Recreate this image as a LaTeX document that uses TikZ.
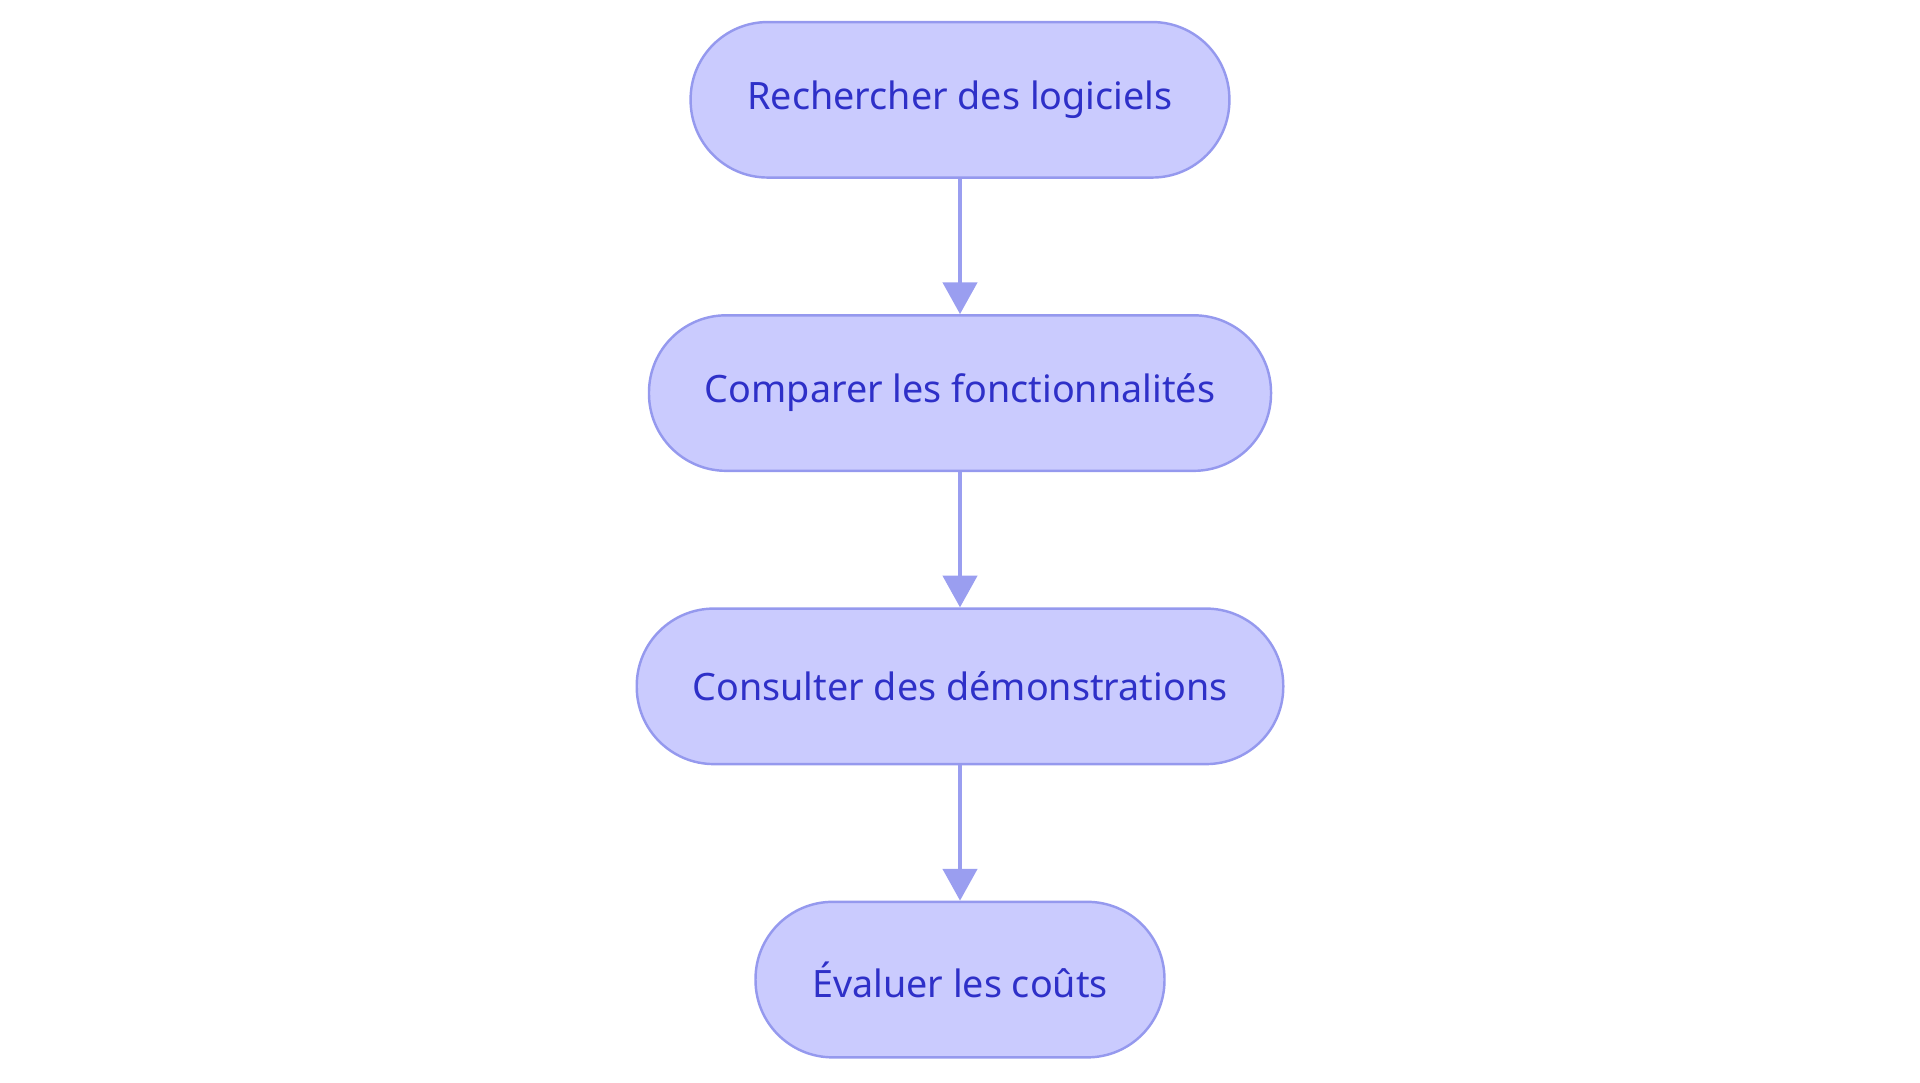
\documentclass[tikz,border=0pt]{standalone}
\usepackage{fontspec}
\setmainfont{Noto Sans}
\usetikzlibrary{arrows.meta}
\definecolor{fillc}{HTML}{CACBFE}
\definecolor{edgec}{HTML}{9599EE}
\definecolor{textc}{HTML}{2E30C8}
\definecolor{arrc}{HTML}{9A9EF0}
\begin{document}
\begin{tikzpicture}[x=0.5pt,y=-0.5pt,
  box/.style={draw=edgec,line width=1pt,fill=fillc,rounded corners=31.5pt,minimum height=63.5pt,text=textc,font=\fontsize{15.4pt}{17pt}\selectfont,inner sep=0pt},
  arr/.style={draw=arrc,line width=1.6pt,-{Triangle[length=13pt,width=14pt]}}]
\useasboundingbox (0,0) rectangle (1568,884);
\node[box,minimum width=220pt] (a) at (784,81.5) {Rechercher des logiciels};
\node[box,minimum width=254pt] (b) at (784,321) {Comparer les fonctionnalités};
\node[box,minimum width=264pt] (c) at (784,560.5) {Consulter des démonstrations};
\node[box,minimum width=167pt] (d) at (784,800) {Évaluer les coûts};
\draw[arr] (a) -- (b);
\draw[arr] (b) -- (c);
\draw[arr] (c) -- (d);
\end{tikzpicture}
\end{document}
